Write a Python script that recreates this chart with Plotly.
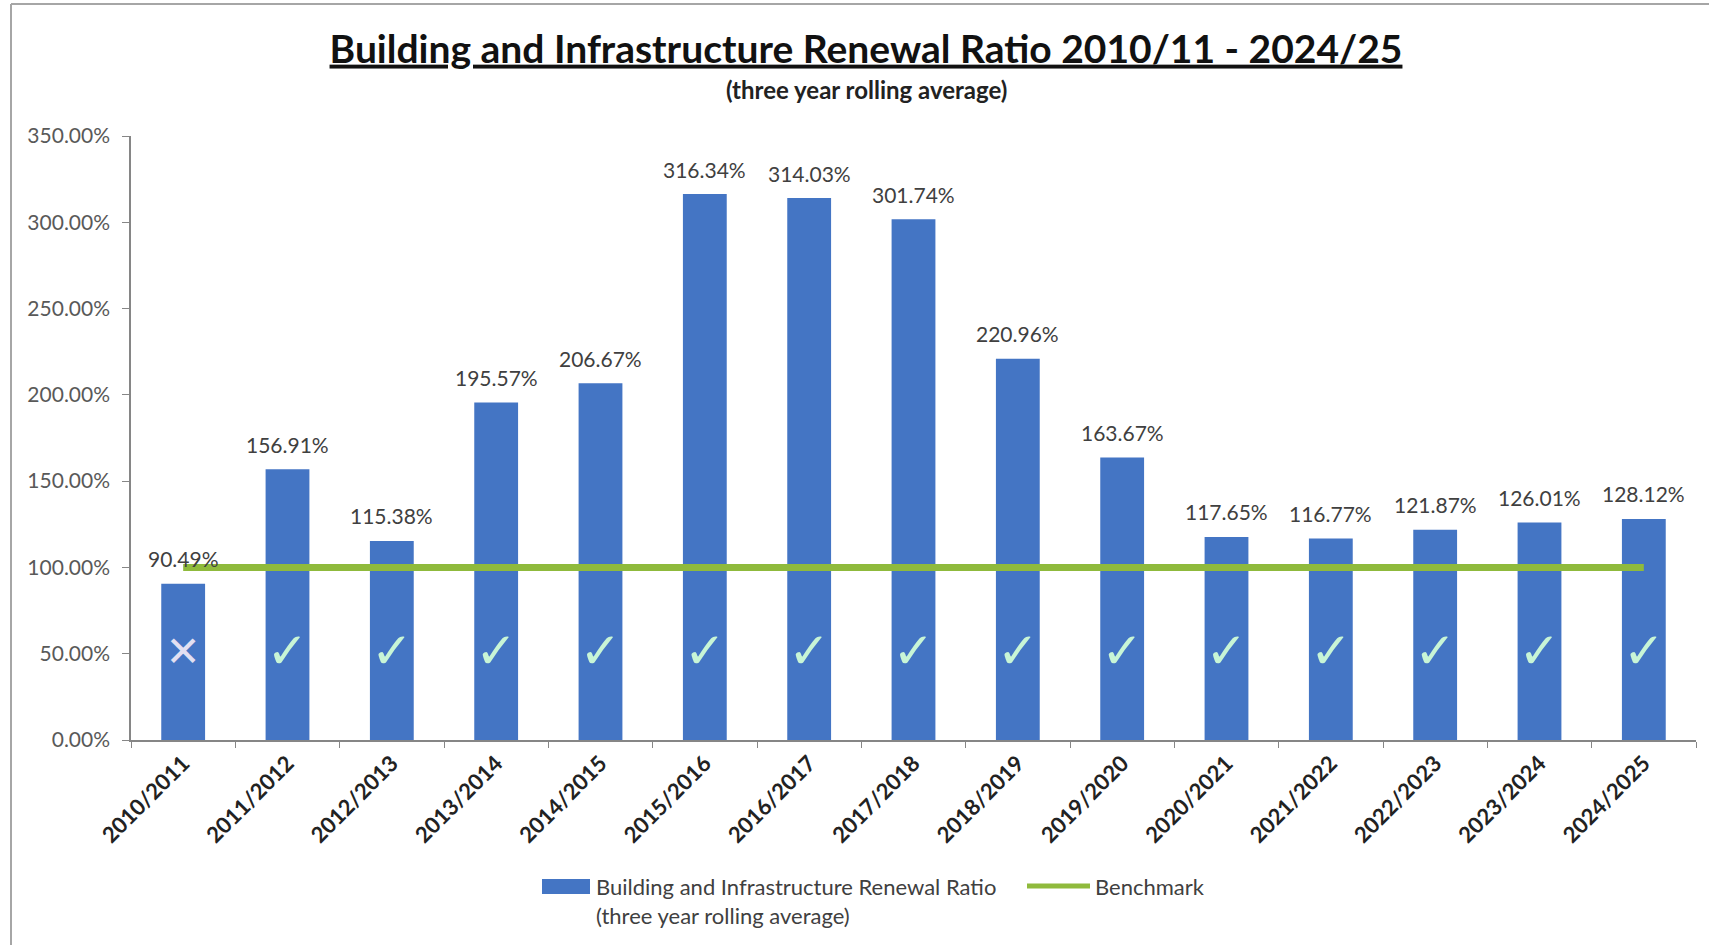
import plotly.graph_objects as go

# Financial years (three year rolling average ending in each year)
years = ["2010/2011", "2011/2012", "2012/2013", "2013/2014", "2014/2015",
         "2015/2016", "2016/2017", "2017/2018", "2018/2019", "2019/2020",
         "2020/2021", "2021/2022", "2022/2023", "2023/2024", "2024/2025"]
renewal_ratio = [90.49, 156.91, 115.38, 195.57, 206.67,
                 316.34, 314.03, 301.74, 220.96, 163.67,
                 117.65, 116.77, 121.87, 126.01, 128.12]
benchmark = [100.0] * len(years)
y_ticks = [0, 50, 100, 150, 200, 250, 300, 350]

W, H = 1709, 945
L, R, T, B = 131, 13, 136, 205
PW, PH = W - L - R, H - T - B

BLUE = "#4475C4"
GREEN = "#8FBA3C"
FONT = "Lato, 'Open Sans', sans-serif"


def px(x):
    return (x - L) / PW


def py(y):
    return (H - B - y) / PH


# pass / fail symbol for each year against the benchmark
marks = ["✓" if v >= b else "✕" for v, b in zip(renewal_ratio, benchmark)]
mark_colors = ["#C8F5D6" if m == "✓" else "#E2E0F2" for m in marks]
mark_sizes = [50 if m == "✓" else 42 for m in marks]

fig = go.Figure()

fig.add_trace(go.Bar(
    x=years, y=renewal_ratio,
    marker=dict(color=BLUE, line=dict(width=0)),
    showlegend=False,
    hovertemplate="%{x}: %{y:.2f}%<extra></extra>",
))

fig.add_trace(go.Scatter(
    x=years, y=benchmark, mode="lines",
    line=dict(color=GREEN, width=7),
    showlegend=False,
    hovertemplate="Benchmark: %{y:.2f}%<extra></extra>",
))

fig.add_trace(go.Scatter(
    x=years, y=[49] * len(years), mode="text",
    text=marks,
    textposition="middle center",
    textfont=dict(family="DejaVu Sans", size=mark_sizes, color=mark_colors,
                  weight="bold"),
    showlegend=False, hoverinfo="skip", cliponaxis=False,
))

shapes = [
    # sheet border (left and top edges)
    dict(type="line", xref="paper", yref="paper",
         x0=px(11), x1=px(11), y0=py(4), y1=py(H), line=dict(color="#A6A6A6", width=2)),
    dict(type="line", xref="paper", yref="paper",
         x0=px(11), x1=px(W), y0=py(4), y1=py(4), line=dict(color="#A6A6A6", width=2)),
    # legend keys
    dict(type="rect", xref="paper", yref="paper",
         x0=px(542), x1=px(590), y0=py(879), y1=py(894),
         fillcolor=BLUE, line=dict(width=0)),
    dict(type="line", xref="paper", yref="paper",
         x0=px(1027), x1=px(1090), y0=py(886), y1=py(886),
         line=dict(color=GREEN, width=5)),
]

# value labels above each bar
annotations = [
    dict(text=f"{v:.2f}%", x=yr, y=v, xref="x", yref="y",
         xanchor="center", yanchor="middle", yshift=25, showarrow=False,
         font=dict(family=FONT, size=21, color="#404040"))
    for yr, v in zip(years, renewal_ratio)
]

annotations += [
    dict(text="<b>(three year rolling average)</b>", xref="paper", yref="paper",
         x=px(866), y=py(90), xanchor="center", yanchor="middle", showarrow=False,
         font=dict(family=FONT, size=24, color="#222222")),
    dict(text="Building and Infrastructure Renewal Ratio", xref="paper", yref="paper",
         x=px(594), y=py(886), xanchor="left", yanchor="middle", showarrow=False,
         font=dict(family=FONT, size=22, color="#404040")),
    dict(text="(three year rolling average)", xref="paper", yref="paper",
         x=px(594), y=py(915), xanchor="left", yanchor="middle", showarrow=False,
         font=dict(family=FONT, size=22, color="#404040")),
    dict(text="Benchmark", xref="paper", yref="paper",
         x=px(1093), y=py(886), xanchor="left", yanchor="middle", showarrow=False,
         font=dict(family=FONT, size=22, color="#404040")),
]

fig.update_layout(
    width=W, height=H,
    margin=dict(l=L, r=R, t=T, b=B),
    paper_bgcolor="white", plot_bgcolor="white",
    title=dict(
        text="<b><u>Building and Infrastructure Renewal Ratio 2010/11 - 2024/25</u></b>",
        x=px(866), xref="paper", xanchor="center",
        y=1 - 49 / H, yref="container", yanchor="middle",
        font=dict(family=FONT, size=39, color="#111111"),
    ),
    bargap=0.58,
    shapes=shapes,
    annotations=annotations,
    showlegend=False,
    xaxis=dict(
        type="category", range=[-0.5, len(years) - 0.5],
        showline=True, linecolor="#868686", linewidth=1.5,
        ticks="outside", ticklen=6, tickcolor="#868686", tickson="boundaries",
        tickangle=-45,
        tickfont=dict(family=FONT, size=22, color="#222222", weight="bold"),
        showgrid=False, zeroline=False,
    ),
    yaxis=dict(
        range=[0, 350], tickvals=y_ticks,
        ticktext=[f"{v:.2f}%" for v in y_ticks],
        showline=True, linecolor="#868686", linewidth=1.5,
        ticks="outside", ticklen=7, tickcolor="#868686",
        ticklabelstandoff=8,
        tickfont=dict(family=FONT, size=21, color="#595959"),
        showgrid=False, zeroline=False,
    ),
)

fig.write_html("out.html")
